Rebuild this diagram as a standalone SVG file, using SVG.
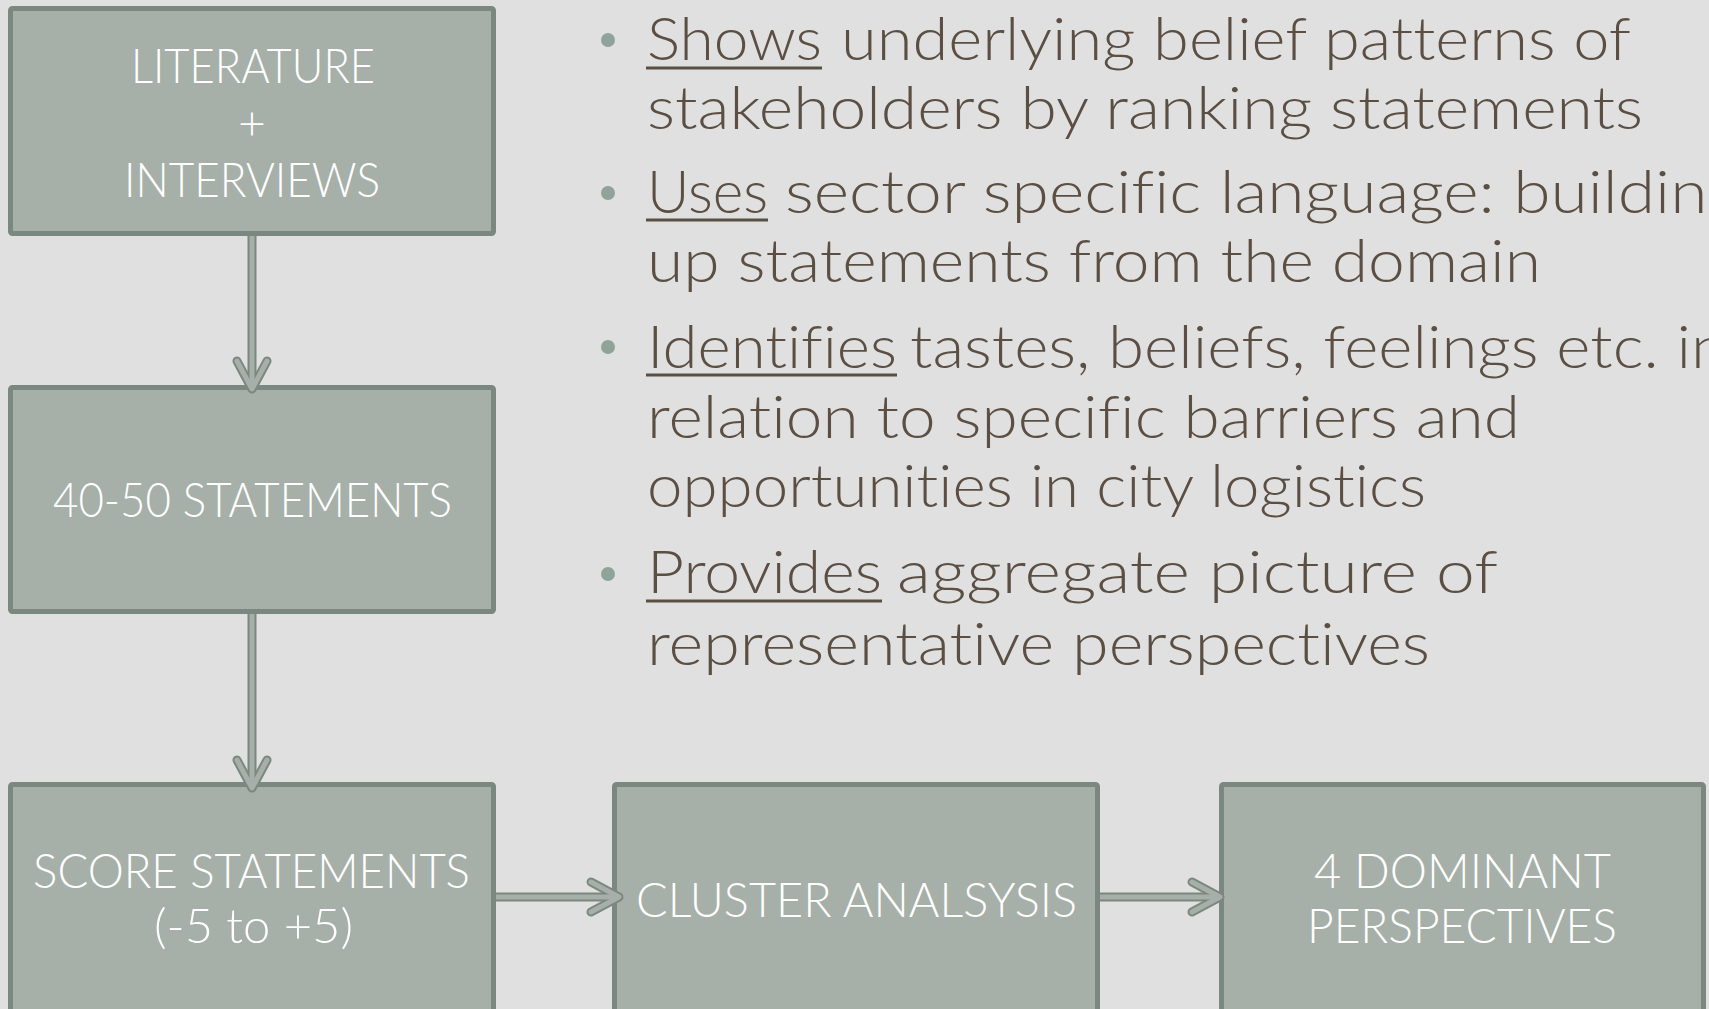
<svg xmlns="http://www.w3.org/2000/svg" width="1709" height="1009" viewBox="0 0 1709 1009">
  <style>
    .box { fill: #a6afa8; stroke: #7b887f; stroke-width: 5; }
    .btxt { font-family: "Lato", "Liberation Sans", Arial, sans-serif; font-weight: 300; font-size: 48px; fill: #ffffff; font-variant-ligatures: none; }
    .body { font-family: "Lato", "Liberation Sans", Arial, sans-serif; font-weight: 300; font-size: 60px; fill: #5b4f44; font-variant-ligatures: none; }
    .uline { stroke: #5b4f44; stroke-width: 3; }
    .dot { fill: #90a39a; }
    .co { fill: none; stroke: #7b887f; stroke-width: 9; stroke-linejoin: round; }
    .ci { fill: none; stroke: #a6afa8; stroke-width: 5; stroke-linejoin: round; }
    .cap { stroke-linecap: round; }
  </style>
  <rect x="0" y="0" width="1709" height="1009" fill="#e0e0e0"/>

  <g id="node-literature">
    <rect class="box" x="10.5" y="8.5" width="483" height="225" rx="2"/>
    <text class="btxt" x="131" y="83" textLength="244" lengthAdjust="spacingAndGlyphs">LITERATURE</text>
    <text class="btxt" x="252" y="140" text-anchor="middle">+</text>
    <text class="btxt" x="124" y="197" textLength="256" lengthAdjust="spacingAndGlyphs">INTERVIEWS</text>
  </g>

  <g id="node-statements">
    <rect class="box" x="10.5" y="387.5" width="483" height="224" rx="2"/>
    <text class="btxt" x="53" y="517" textLength="399" lengthAdjust="spacingAndGlyphs">40-50 STATEMENTS</text>
  </g>

  <g id="node-score">
    <rect class="box" x="10.5" y="784.5" width="483" height="240" rx="2"/>
    <text class="btxt" x="33" y="888" textLength="437" lengthAdjust="spacingAndGlyphs">SCORE STATEMENTS</text>
    <text class="btxt" x="154" y="943" textLength="199" lengthAdjust="spacingAndGlyphs">(-5 to +5)</text>
  </g>

  <g id="node-cluster">
    <rect class="box" x="614.5" y="784.5" width="483" height="240" rx="2"/>
    <text class="btxt" x="636" y="917" textLength="441" lengthAdjust="spacingAndGlyphs">CLUSTER ANALSYSIS</text>
  </g>

  <g id="node-perspectives">
    <rect class="box" x="1221.5" y="784.5" width="482" height="240" rx="2"/>
    <text class="btxt" x="1314" y="888" textLength="297" lengthAdjust="spacingAndGlyphs">4 DOMINANT</text>
    <text class="btxt" x="1307" y="943" textLength="310" lengthAdjust="spacingAndGlyphs">PERSPECTIVES</text>
  </g>

  <g id="connectors">
    <g id="arrow-1">
      <path class="co" d="M252,234 L252,385"/>
      <path class="co cap" d="M237,361 L252,389 L267,361"/>
      <path class="ci" d="M252,236 L252,385"/>
      <path class="ci cap" d="M237,361 L252,389 L267,361"/>
    </g>
    <g id="arrow-2">
      <path class="co" d="M252,612 L252,786"/>
      <path class="co cap" d="M237,760 L252,788 L267,760"/>
      <path class="ci" d="M252,614 L252,786"/>
      <path class="ci cap" d="M237,760 L252,788 L267,760"/>
    </g>
    <g id="arrow-3">
      <path class="co" d="M494,897 L616,897"/>
      <path class="co cap" d="M591,882 L619,897 L591,912"/>
      <path class="ci" d="M496,897 L616,897"/>
      <path class="ci cap" d="M591,882 L619,897 L591,912"/>
    </g>
    <g id="arrow-4">
      <path class="co" d="M1098,897 L1217,897"/>
      <path class="co cap" d="M1192,882 L1220,897 L1192,912"/>
      <path class="ci" d="M1100,897 L1217,897"/>
      <path class="ci cap" d="M1192,882 L1220,897 L1192,912"/>
    </g>
  </g>

  <g id="bullets">
    <circle class="dot" cx="608" cy="40" r="7"/>
    <text class="body" x="647" y="60" textLength="175" lengthAdjust="spacingAndGlyphs">Shows</text>
    <line class="uline" x1="646" y1="68" x2="822" y2="68"/>
    <text class="body" x="841" y="60" textLength="790" lengthAdjust="spacingAndGlyphs">underlying belief patterns of</text>
    <text class="body" x="647" y="129" textLength="996" lengthAdjust="spacingAndGlyphs">stakeholders by ranking statements</text>

    <circle class="dot" cx="608" cy="193" r="7"/>
    <text class="body" x="647" y="213" textLength="121" lengthAdjust="spacingAndGlyphs">Uses</text>
    <line class="uline" x1="646" y1="220" x2="768" y2="220"/>
    <text class="body" x="785" y="213" textLength="957" lengthAdjust="spacingAndGlyphs">sector specific language: building</text>
    <text class="body" x="647" y="282" textLength="894" lengthAdjust="spacingAndGlyphs">up statements from the domain</text>

    <circle class="dot" cx="608" cy="347" r="7"/>
    <text class="body" x="647" y="368" textLength="250" lengthAdjust="spacingAndGlyphs">Identifies</text>
    <line class="uline" x1="646" y1="375" x2="897" y2="375"/>
    <text class="body" x="910" y="368" textLength="817" lengthAdjust="spacingAndGlyphs">tastes, beliefs, feelings etc. in</text>
    <text class="body" x="647" y="438" textLength="873" lengthAdjust="spacingAndGlyphs">relation to specific barriers and</text>
    <text class="body" x="647" y="507" textLength="779" lengthAdjust="spacingAndGlyphs">opportunities in city logistics</text>

    <circle class="dot" cx="608" cy="574" r="7"/>
    <text class="body" x="647" y="593" textLength="235" lengthAdjust="spacingAndGlyphs">Provides</text>
    <line class="uline" x1="646" y1="601" x2="882" y2="601"/>
    <text class="body" x="897" y="593" textLength="601" lengthAdjust="spacingAndGlyphs">aggregate picture of</text>
    <text class="body" x="647" y="665" textLength="783" lengthAdjust="spacingAndGlyphs">representative perspectives</text>
  </g>
</svg>
